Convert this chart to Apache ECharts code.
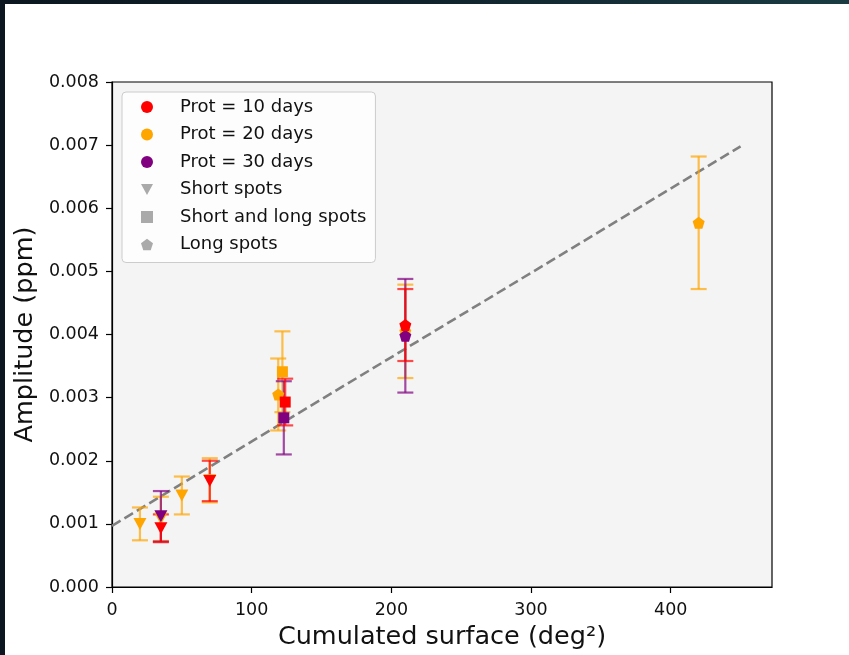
<!DOCTYPE html>
<html>
<head>
<meta charset="utf-8">
<title>Amplitude vs cumulated surface</title>
<script src="https://cdn.jsdelivr.net/npm/echarts@6/dist/echarts.min.js"></script>
<style>
  html, body { margin: 0; padding: 0; background: #ffffff; }
  #chart { width: 849px; height: 655px; }
</style>
</head>
<body>
<div id="chart"></div>
<script>
// Each point: [cumulated surface (deg^2), amplitude, 1-sigma error]

// Prot = 10 days
const prot10Short = [[35, 0.00093, 0.00022], [70, 0.00168, 0.00032]];
const prot10Mixed = [[124, 0.00293, 0.00037]];
const prot10Long  = [[210, 0.00415, 0.00057]];

// Prot = 20 days
const prot20Short = [[20, 0.00100, 0.00026], [35, 0.00108, 0.00035], [50, 0.00145, 0.00030], [70, 0.00169, 0.00035]];
const prot20Mixed = [[122, 0.00341, 0.00064]];
const prot20Long  = [[119, 0.00305, 0.00057], [210, 0.00405, 0.00074], [420, 0.00577, 0.00105]];

// Prot = 30 days
const prot30Short = [[35, 0.00112, 0.00040]];
const prot30Mixed = [[123, 0.00268, 0.00058]];
const prot30Long  = [[210, 0.00398, 0.00090]];

// Linear trend
const fitX = [0, 450];
const fitY = [0.00097, 0.00698];

// Axis ticks
const xTicks = [0, 100, 200, 300, 400];
const yTicks = [0, 0.001, 0.002, 0.003, 0.004, 0.005, 0.006, 0.007, 0.008];

const legendNames = ['Prot = 10 days', 'Prot = 20 days', 'Prot = 30 days',
                     'Short spots', 'Short and long spots', 'Long spots'];

const RED = '#ff0000', ORANGE = '#ffa500', PURPLE = '#800080', GREY = '#aaaaaa';
const FONT = 'DejaVu Sans';
const TEXT = '#111111';

const PENTAGON = 'path://M0,-1 L0.951,-0.309 L0.588,0.809 L-0.588,0.809 L-0.951,-0.309 Z';
const TRI_DOWN = 'path://M-1,-0.8 L1,-0.8 L0,1 Z';

const markerShapes = {
  short: { symbol: TRI_DOWN, size: [13, 12] },
  mixed: { symbol: 'rect', size: 11 },
  long:  { symbol: PENTAGON, size: 12 }
};

function errorSeries(points, color) {
  return {
    type: 'custom',
    silent: true,
    z: 3,
    data: points.map(p => [p[0], p[1] - p[2], p[1] + p[2]]),
    encode: { x: 0, y: [1, 2] },
    renderItem: function (params, api) {
      const top = api.coord([api.value(0), api.value(2)]);
      const bot = api.coord([api.value(0), api.value(1)]);
      const cap = 8;
      const style = { stroke: color, lineWidth: 2.2, opacity: 0.7 };
      return {
        type: 'group',
        children: [
          { type: 'line', shape: { x1: top[0], y1: top[1], x2: bot[0], y2: bot[1] }, style: style },
          { type: 'line', shape: { x1: top[0] - cap, y1: top[1], x2: top[0] + cap, y2: top[1] }, style: style },
          { type: 'line', shape: { x1: bot[0] - cap, y1: bot[1], x2: bot[0] + cap, y2: bot[1] }, style: style }
        ]
      };
    }
  };
}

function markerSeries(points, color, kind, z) {
  return {
    type: 'scatter',
    silent: true,
    z: z,
    symbol: markerShapes[kind].symbol,
    symbolSize: markerShapes[kind].size,
    itemStyle: { color: color, opacity: 1 },
    data: points.map(p => [p[0], p[1]])
  };
}

const groups = [
  { color: ORANGE, sets: { short: prot20Short, mixed: prot20Mixed, long: prot20Long }, z: 4 },
  { color: PURPLE, sets: { short: prot30Short, mixed: prot30Mixed, long: prot30Long }, z: 5 },
  { color: RED,    sets: { short: prot10Short, mixed: prot10Mixed, long: prot10Long }, z: 6 }
];

const series = [];

// Trend line
series.push({
  type: 'line',
  silent: true,
  z: 2,
  symbol: 'none',
  data: fitX.map((x, i) => [x, fitY[i]]),
  lineStyle: { color: '#808080', width: 2.6, type: [10, 4.5] }
});

groups.forEach(g => {
  ['short', 'mixed', 'long'].forEach(kind => {
    series.push(errorSeries(g.sets[kind], g.color));
  });
});
groups.forEach(g => {
  ['short', 'mixed', 'long'].forEach(kind => {
    series.push(markerSeries(g.sets[kind], g.color, kind, g.z));
  });
});

// Empty series that only feed the legend
const legendIcons = ['circle', 'circle', 'circle', TRI_DOWN, 'rect', PENTAGON];
const legendColors = [RED, ORANGE, PURPLE, GREY, GREY, GREY];
legendNames.forEach((name, i) => {
  series.push({
    type: 'scatter', name: name, data: [],
    itemStyle: { color: legendColors[i], opacity: 1, borderWidth: 0 }
  });
});

const chart = echarts.init(document.getElementById('chart'), null, { renderer: 'canvas' });

chart.setOption({
  animation: false,
  backgroundColor: '#ffffff',
  graphic: [
    {
      type: 'rect', z: -10, silent: true,
      shape: { x: 0, y: 0, width: 849, height: 4 },
      style: {
        fill: new echarts.graphic.LinearGradient(0, 0, 1, 0, [
          { offset: 0, color: '#0b1620' },
          { offset: 0.5, color: '#10232d' },
          { offset: 1, color: '#1a3b42' }
        ])
      }
    },
    {
      type: 'rect', z: -10, silent: true,
      shape: { x: 0, y: 0, width: 5, height: 655 },
      style: { fill: '#0b1620' }
    }
  ],
  grid: {
    left: 112, right: 77, top: 82, bottom: 68,
    show: true,
    backgroundColor: '#f4f4f4',
    borderColor: '#000000',
    borderWidth: 1.2
  },
  legend: {
    orient: 'vertical',
    left: 122, top: 92,
    data: legendNames.map((n, i) => ({
      name: n, icon: legendIcons[i],
      itemStyle: { color: legendColors[i], opacity: 1, borderWidth: 0 }
    })),
    itemWidth: 12, itemHeight: 12,
    itemGap: 7.5,
    padding: [5, 9, 8, 19],
    backgroundColor: 'rgba(255,255,255,0.8)',
    borderColor: '#cccccc',
    borderWidth: 1,
    borderRadius: 4,
    selectedMode: false,
    inactiveColor: '#aaaaaa',
    textStyle: { fontFamily: FONT, fontSize: 18, color: TEXT, lineHeight: 20, padding: [0, 0, 0, 22] }
  },
  xAxis: {
    type: 'value',
    min: 0, max: 472.5,
    name: 'Cumulated surface (deg²)',
    nameLocation: 'middle',
    nameGap: 36,
    nameTextStyle: { fontFamily: FONT, fontSize: 25.5, color: TEXT },
    axisLine: { show: true, onZero: false, lineStyle: { color: '#000', width: 1.2 } },
    axisTick: { show: true, inside: false, length: 6, customValues: xTicks, lineStyle: { color: '#000', width: 1.2 } },
    axisLabel: { customValues: xTicks, fontFamily: FONT, fontSize: 17.5, color: TEXT, margin: 14 },
    splitLine: { show: false }
  },
  yAxis: {
    type: 'value',
    min: 0, max: 0.008,
    name: 'Amplitude (ppm)',
    nameLocation: 'middle',
    nameGap: 74,
    nameRotate: 90,
    nameTextStyle: { fontFamily: FONT, fontSize: 25.5, color: TEXT },
    axisLine: { show: true, onZero: false, lineStyle: { color: '#000', width: 1.2 } },
    axisTick: { show: true, inside: false, length: 6, customValues: yTicks, lineStyle: { color: '#000', width: 1.2 } },
    axisLabel: {
      customValues: yTicks,
      fontFamily: FONT, fontSize: 17.5, color: TEXT, margin: 13,
      formatter: v => v.toFixed(3)
    },
    splitLine: { show: false }
  },
  series: series
});
</script>
</body>
</html>
